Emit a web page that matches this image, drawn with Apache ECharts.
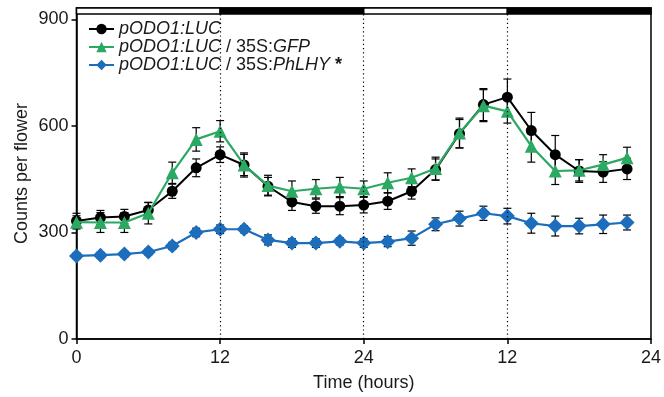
<!DOCTYPE html>
<html>
<head>
<meta charset="utf-8">
<script src="https://cdn.jsdelivr.net/npm/echarts@6/dist/echarts.min.js"></script>
<style>
  html, body { margin: 0; padding: 0; background: #fff; }
  #chart { width: 664px; height: 397px; }
</style>
</head>
<body>
<div id="chart"></div>
<script>
// time points (hours from start, 2 h steps)
const hours = [0, 2, 4, 6, 8, 10, 12, 14, 16, 18, 20, 22, 24, 26, 28, 30, 32, 34, 36, 38, 40, 42, 44, 46];

const lucMean   = [332, 342, 345, 363, 416, 482, 519, 490, 430, 386, 374, 374, 377, 388, 416, 477, 578, 660, 681, 587, 519, 473, 470, 479];
const lucErr    = [22, 20, 20, 22, 20, 25, 22, 30, 25, 24, 20, 24, 22, 23, 22, 30, 40, 45, 51, 51, 54, 32, 29, 30];

const gfpMean   = [329, 328, 328, 354, 468, 562, 585, 490, 432, 416, 423, 428, 423, 440, 454, 480, 580, 657, 641, 543, 473, 475, 491, 510];
const gfpErr    = [18, 28, 28, 30, 30, 33, 30, 34, 29, 29, 26, 27, 22, 28, 25, 32, 42, 45, 33, 45, 38, 30, 28, 30];

const lhyMean   = [234, 236, 239, 245, 262, 300, 309, 309, 279, 270, 270, 275, 270, 274, 284, 323, 339, 354, 346, 326, 318, 318, 323, 328];
const lhyErr    = [8, 8, 8, 8, 10, 12, 12, 10, 14, 12, 12, 10, 12, 14, 20, 18, 21, 20, 22, 28, 28, 22, 26, 21];

const seriesNames = ['pODO1:LUC', 'pODO1:LUC / 35S:GFP', 'pODO1:LUC / 35S:PhLHY *'];
const xTicks = [0, 12, 24, 36, 48];
const xTickLabels = ['0', '12', '24', '12', '24'];
const yTicks = [0, 300, 600, 900];
const dividers = [12, 24, 36];
// light / dark periods for the bar along the top
const periodStart = [0, 12, 24, 36];
const periodEnd   = [12, 24, 36, 48];
const periodDark  = [false, true, false, true];

const Y_MAX = 932;
const BAR_LOW = 915;

const chart = echarts.init(document.getElementById('chart'));

function pairs(ys) {
  return hours.map((h, i) => [h, ys[i]]);
}
function errData(ys, es) {
  return hours.map((h, i) => [h, ys[i] - es[i], ys[i] + es[i]]);
}

function renderErr(params, api) {
  const x = api.value(0);
  const top = api.coord([x, api.value(2)]);
  const bot = api.coord([x, api.value(1)]);
  const w = 4;
  const st = { stroke: '#000', lineWidth: 1.2 };
  return {
    type: 'group',
    children: [
      { type: 'line', shape: { x1: top[0], y1: top[1], x2: bot[0], y2: bot[1] }, style: st },
      { type: 'line', shape: { x1: top[0] - w, y1: top[1], x2: top[0] + w, y2: top[1] }, style: st },
      { type: 'line', shape: { x1: bot[0] - w, y1: bot[1], x2: bot[0] + w, y2: bot[1] }, style: st }
    ]
  };
}

const FS = 18;
const italicStyle = { fontStyle: 'italic', fontSize: FS, fontFamily: 'Liberation Sans', color: '#1a1a1a', lineHeight: 18 };
const normalStyle = { fontSize: FS, fontFamily: 'Liberation Sans', color: '#1a1a1a', lineHeight: 18 };

function legendText(name) {
  if (name === seriesNames[0]) return '{i|pODO1:LUC}';
  if (name === seriesNames[1]) return '{i|pODO1:LUC}{n| / 35S:}{i|GFP}';
  return '{i|pODO1:LUC}{n| / 35S:}{i|PhLHY}{s| *}';
}

const periodAreas = periodStart.map((s, i) => [
  {
    xAxis: s, yAxis: BAR_LOW,
    itemStyle: { color: periodDark[i] ? '#000' : '#fff', borderColor: '#000', borderWidth: 1.5 }
  },
  { xAxis: periodEnd[i], yAxis: Y_MAX }
]);

const dividerLines = dividers.map(d => [{ coord: [d, 0] }, { coord: [d, BAR_LOW] }]);

const option = {
  animation: false,
  backgroundColor: '#fff',
  textStyle: { fontFamily: 'Liberation Sans' },
  grid: {
    left: 76.5, right: 11, top: 8, bottom: 57,
    show: true, borderColor: '#000', borderWidth: 1.5
  },
  legend: {
    data: seriesNames,
    orient: 'vertical',
    left: 83, top: 15,
    itemWidth: 25, itemHeight: 13,
    itemGap: 0,
    formatter: legendText,
    textStyle: {
      rich: {
        i: italicStyle,
        n: normalStyle,
        s: { fontSize: FS, fontWeight: 'bold', fontFamily: 'Liberation Sans', color: '#1a1a1a', lineHeight: 18, verticalAlign: 'top' }
      }
    }
  },
  xAxis: {
    type: 'value',
    min: 0, max: 48, interval: 12,
    name: 'Time (hours)',
    nameLocation: 'middle',
    nameGap: 35,
    nameTextStyle: { fontSize: FS, color: '#1a1a1a' },
    axisLine: { lineStyle: { color: '#000', width: 1.5 } },
    axisTick: { length: 5, lineStyle: { color: '#000', width: 1.5 } },
    axisLabel: {
      fontSize: FS, color: '#1a1a1a', margin: 10,
      formatter: v => xTickLabels[xTicks.indexOf(v)]
    },
    splitLine: { show: false }
  },
  yAxis: {
    type: 'value',
    min: 0, max: Y_MAX,
    name: 'Counts per flower',
    nameLocation: 'middle',
    nameGap: 45,
    nameMoveOverlap: false,
    nameTextStyle: { fontSize: FS, color: '#1a1a1a' },
    axisLine: { show: true, lineStyle: { color: '#000', width: 1.5 } },
    axisTick: { show: true, length: 5, customValues: yTicks, lineStyle: { color: '#000', width: 1.5 } },
    axisLabel: { fontSize: FS, color: '#1a1a1a', margin: 8, customValues: yTicks },
    splitLine: { show: false }
  },
  series: [
    {
      type: 'custom', name: 'errLuc', renderItem: renderErr, data: errData(lucMean, lucErr), z: 1, silent: true,
      markLine: {
        silent: true, symbol: 'none', label: { show: false },
        lineStyle: { type: [1.2, 3], color: '#000', width: 1.2 },
        data: dividerLines
      },
      markArea: { silent: true, data: periodAreas }
    },
    { type: 'custom', name: 'errGfp', renderItem: renderErr, data: errData(gfpMean, gfpErr), z: 1, silent: true },
    { type: 'custom', name: 'errLhy', renderItem: renderErr, data: errData(lhyMean, lhyErr), z: 1, silent: true },
    {
      name: seriesNames[0], type: 'line', data: pairs(lucMean), z: 3,
      symbol: 'circle', symbolSize: 11,
      lineStyle: { color: '#000', width: 2 },
      itemStyle: { color: '#000' }
    },
    {
      name: seriesNames[1], type: 'line', data: pairs(gfpMean), z: 4,
      symbol: 'triangle', symbolSize: 13,
      lineStyle: { color: '#2ba862', width: 2.2 },
      itemStyle: { color: '#2ba862' }
    },
    {
      name: seriesNames[2], type: 'line', data: pairs(lhyMean), z: 3,
      symbol: 'diamond', symbolSize: 15,
      lineStyle: { color: '#1c6ebd', width: 2.2 },
      itemStyle: { color: '#1c6ebd' }
    }
  ]
};

chart.setOption(option);
</script>
</body>
</html>
